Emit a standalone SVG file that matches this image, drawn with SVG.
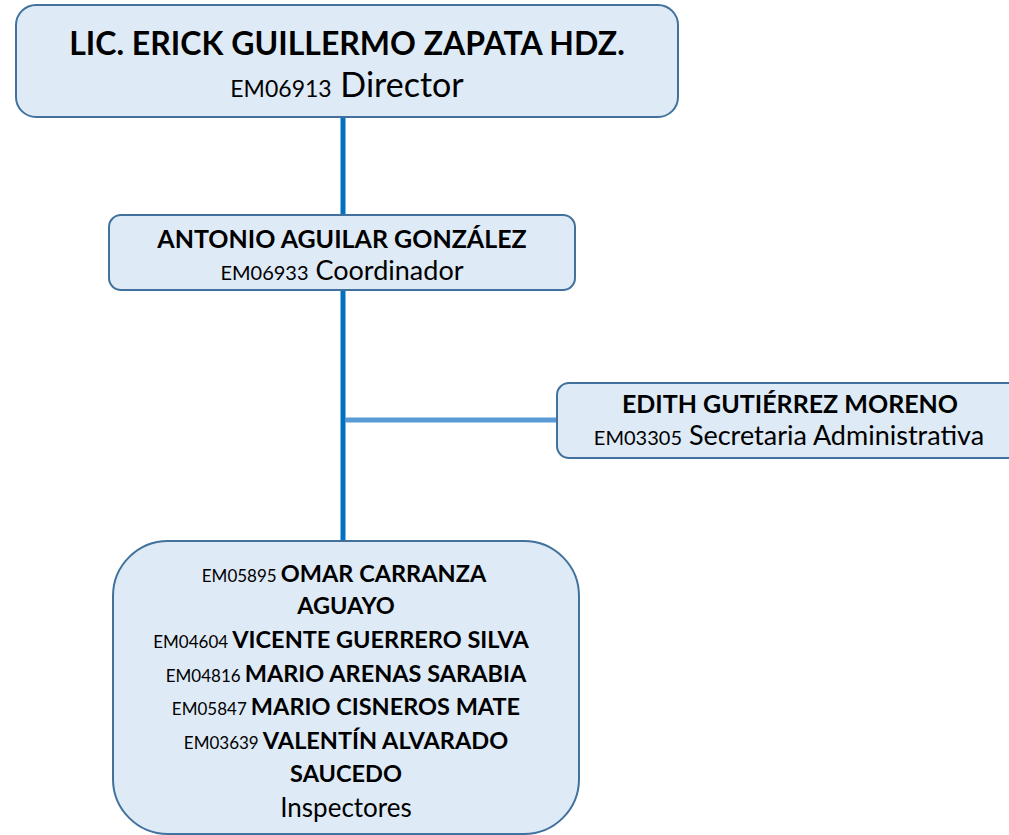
<svg xmlns="http://www.w3.org/2000/svg" width="1009" height="835" viewBox="0 0 1009 835">
<style>
.box{fill:#DEEAF6;stroke:#41719C;stroke-width:2}
text{font-family:Lato,"Open Sans","Liberation Sans",sans-serif;fill:#000;text-anchor:middle}
.b{font-weight:bold}
.s{font-size:20px}
.i{font-size:26px}
.ib{font-size:23.5px;font-weight:bold}
.is{font-size:17px}
</style>
<rect width="1009" height="835" fill="#fff"/>
<g id="connectors">
<line x1="343" y1="117" x2="343" y2="542" stroke="#0070C0" stroke-width="5"/>
<line x1="345" y1="420" x2="557" y2="420" stroke="#5B9BD5" stroke-width="5"/>
</g>
<g id="director">
<rect class="box" x="16" y="5" width="662" height="112" rx="20"/>
<text x="347" y="55" class="b" font-size="32">LIC. ERICK GUILLERMO ZAPATA HDZ.</text>
<text x="347" y="97" font-size="34"><tspan font-size="23">EM06913</tspan> Director</text>
</g>
<g id="coordinador">
<rect class="box" x="109" y="215" width="466" height="75" rx="12"/>
<text x="342" y="248" class="b" font-size="25">ANTONIO AGUILAR GONZÁLEZ</text>
<text x="342" y="280" font-size="27"><tspan class="s">EM06933</tspan> Coordinador</text>
</g>
<g id="secretaria">
<rect class="box" x="557" y="383" width="470" height="75" rx="12"/>
<text x="790" y="413" class="b" font-size="25">EDITH GUTIÉRREZ MORENO</text>
<text x="789" y="445" font-size="27"><tspan class="s">EM03305</tspan> Secretaria Administrativa</text>
</g>
<g id="inspectores">
<rect class="box" x="113" y="541" width="466" height="293" rx="55"/>
<text x="344" y="582"><tspan class="is">EM05895</tspan> <tspan class="ib">OMAR CARRANZA</tspan></text>
<text x="346" y="614" class="ib">AGUAYO</text>
<text x="341" y="648"><tspan class="is">EM04604</tspan> <tspan class="ib">VICENTE GUERRERO SILVA</tspan></text>
<text x="346" y="682"><tspan class="is">EM04816</tspan> <tspan class="ib">MARIO ARENAS SARABIA</tspan></text>
<text x="346" y="715"><tspan class="is">EM05847</tspan> <tspan class="ib">MARIO CISNEROS MATE</tspan></text>
<text x="346" y="749"><tspan class="is">EM03639</tspan> <tspan class="ib">VALENTÍN ALVARADO</tspan></text>
<text x="346" y="782" class="ib">SAUCEDO</text>
<text x="346" y="817" class="i">Inspectores</text>
</g>
</svg>
